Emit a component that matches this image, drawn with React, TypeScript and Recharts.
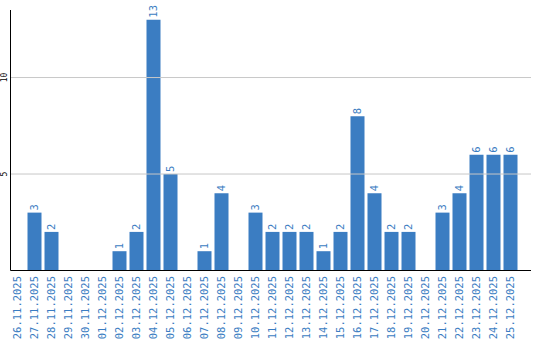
import { BarChart, Bar, XAxis, YAxis, ReferenceLine, LabelList } from "recharts";

const dates = [
  "26.11.2025", "27.11.2025", "28.11.2025", "29.11.2025", "30.11.2025",
  "01.12.2025", "02.12.2025", "03.12.2025", "04.12.2025", "05.12.2025",
  "06.12.2025", "07.12.2025", "08.12.2025", "09.12.2025", "10.12.2025",
  "11.12.2025", "12.12.2025", "13.12.2025", "14.12.2025", "15.12.2025",
  "16.12.2025", "17.12.2025", "18.12.2025", "19.12.2025", "20.12.2025",
  "21.12.2025", "22.12.2025", "23.12.2025", "24.12.2025", "25.12.2025",
];

const counts = [
  0, 3, 2, 0, 0,
  0, 1, 2, 13, 5,
  0, 1, 4, 0, 3,
  2, 2, 2, 1, 2,
  8, 4, 2, 2, 0,
  3, 4, 6, 6, 6,
];

const yTicks = [5, 10];

const data = dates.map((date, i) => ({ date, count: counts[i] }));

const BLUE = "#3b7dc2";
const FONT = "'DejaVu Sans Mono', monospace";

const DateTick = (props: any) => {
  const { x, y, payload } = props;
  return (
    <g transform={`translate(${x},${y + 5.5}) rotate(-90)`}>
      <text textAnchor="end" dy="0.35em" fill={BLUE} fontSize={10.5} fontFamily={FONT}>
        {payload.value}
      </text>
    </g>
  );
};

const ValueTick = (props: any) => {
  const { x, y, payload } = props;
  return (
    <g transform={`translate(${x - 6},${y}) rotate(-90)`}>
      <text textAnchor="middle" dy="0.35em" fill="#000" fontSize={8} fontFamily={FONT}>
        {payload.value}
      </text>
    </g>
  );
};

const BarValue = (props: any) => {
  const { x, y, width, value } = props;
  if (!value) return null;
  return (
    <g transform={`translate(${x + width / 2},${y - 2}) rotate(-90)`}>
      <text textAnchor="start" dy="0.35em" fill={BLUE} fontSize={10.5} fontFamily={FONT}>
        {value}
      </text>
    </g>
  );
};

export default function App() {
  return (
    <div style={{ position: "absolute", left: 0, top: 0, background: "#fff" }}>
      <BarChart
        width={540}
        height={340}
        data={data}
        margin={{ top: 10, right: 9, bottom: 0, left: 0 }}
        barSize={14}
      >
        {yTicks.map((t) => (
          <ReferenceLine key={t} y={t} stroke="#c8c8c8" />
        ))}
        <XAxis
          dataKey="date"
          interval={0}
          height={69.5}
          tickLine={false}
          tickSize={0}
          tickMargin={0}
          padding={{ left: -2, right: 12.5 }}
          axisLine={{ stroke: "#000" }}
          tick={<DateTick />}
        />
        <YAxis
          width={10.5}
          domain={[0, 13.5]}
          ticks={yTicks}
          tickLine={false}
          tickSize={0}
          tickMargin={0}
          axisLine={{ stroke: "#000" }}
          tick={<ValueTick />}
        />
        <Bar dataKey="count" fill={BLUE} isAnimationActive={false}>
          <LabelList dataKey="count" content={<BarValue />} />
        </Bar>
      </BarChart>
    </div>
  );
}
